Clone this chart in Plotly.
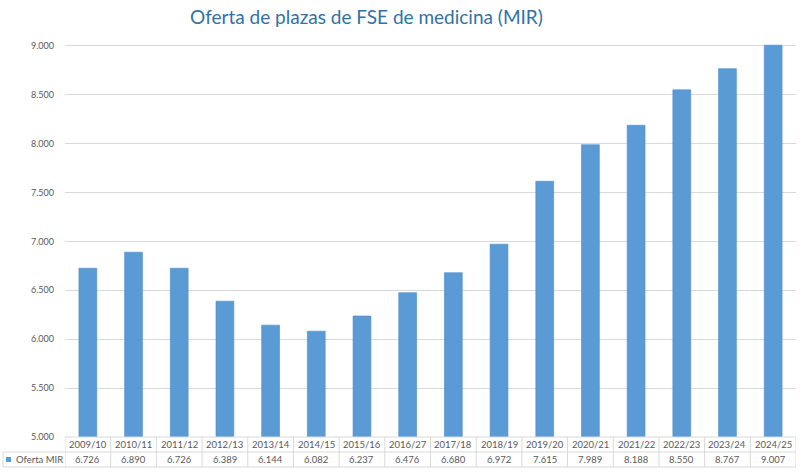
import plotly.graph_objects as go

categories = ["2009/10", "2010/11", "2011/12", "2012/13", "2013/14", "2014/15", "2015/16",
              "2016/27", "2017/18", "2018/19", "2019/20", "2020/21", "2021/22", "2022/23",
              "2023/24", "2024/25"]
values = [6726, 6890, 6726, 6389, 6144, 6082, 6237, 6476, 6680, 6972, 7615, 7989, 8188,
          8550, 8767, 9007]
series_name = "Oferta MIR"
title_text = "Oferta de plazas de FSE de medicina (MIR)"

BAR = "#5B9BD5"
GRID = "#D9D9D9"
TXT = "#595959"
FONT = "Lato, Open Sans, sans-serif"

W, H = 801, 475
L, R, T, B = 65, 5, 40, 38
plot_h = H - T - B
plot_w = W - L - R

def py(p):  # pixel y -> paper y
    return (H - B - p) / plot_h

def px(p):  # pixel x -> paper x
    return (p - L) / plot_w

n = len(categories)
xs = list(range(n))

fig = go.Figure()
fig.add_trace(go.Bar(
    x=xs, y=values, name=series_name,
    marker=dict(color=BAR, line=dict(color="#4A8AC9", width=0.6)),
    width=0.39, showlegend=False, hoverinfo="y",
))

shapes = []
annotations = []
row1_top, row1_bot, row2_bot = H - B, H - B + 15, H - B + 30
shapes.append(dict(type="line", xref="paper", yref="paper", x0=0, x1=1,
                   y0=py(row1_top), y1=py(row1_top), line=dict(color=GRID, width=1)))
for yy in (row1_bot, row2_bot):
    shapes.append(dict(type="line", xref="paper", yref="paper", x0=px(3), x1=1,
                       y0=py(yy), y1=py(yy), line=dict(color=GRID, width=1)))
for i in range(n + 1):
    shapes.append(dict(type="line", xref="x", yref="paper", x0=i - 0.5, x1=i - 0.5,
                       y0=py(row1_top), y1=py(row2_bot), line=dict(color=GRID, width=1)))
shapes.append(dict(type="line", xref="paper", yref="paper", x0=px(3), x1=px(3),
                   y0=py(row1_bot), y1=py(row2_bot), line=dict(color=GRID, width=1)))
shapes.append(dict(type="rect", xref="paper", yref="paper", x0=px(6), x1=px(11),
                   y0=py(462), y1=py(457), fillcolor=BAR, line=dict(width=0)))

tf = dict(size=9.5, color=TXT, family=FONT)
for i, (c, v) in enumerate(zip(categories, values)):
    annotations.append(dict(x=i, y=py((row1_top + row1_bot) / 2), xref="x", yref="paper",
                            text=c, showarrow=False, xanchor="center", yanchor="middle", font=tf))
    annotations.append(dict(x=i, y=py((row1_bot + row2_bot) / 2), xref="x", yref="paper",
                            text=f"{v:,}".replace(",", "."), showarrow=False,
                            xanchor="center", yanchor="middle", font=tf))
annotations.append(dict(x=px(14), y=py((row1_bot + row2_bot) / 2), xref="paper", yref="paper",
                        text=series_name, showarrow=False, xanchor="left", yanchor="middle",
                        font=tf))
annotations.append(dict(x=px(366), y=py(17), xref="paper", yref="paper",
                        text=title_text, showarrow=False, xanchor="center", yanchor="middle",
                        font=dict(size=19, color="#2E72A8", family=FONT)))

fig.update_layout(
    width=W, height=H,
    margin=dict(l=L, r=R, t=T, b=B),
    paper_bgcolor="white", plot_bgcolor="white",
    separators=",.",
    bargap=0.6,
    xaxis=dict(range=[-0.5, n - 0.5], showticklabels=False, showgrid=False,
               zeroline=False, showline=False, fixedrange=True),
    yaxis=dict(range=[5000, 9060], tickvals=[5000, 5500, 6000, 6500, 7000, 7500, 8000, 8500, 9000],
               tickformat=",", showgrid=True, gridcolor=GRID, gridwidth=1, zeroline=False,
               showline=False, ticks="", ticklabelstandoff=10,
               tickfont=dict(size=9, color=TXT, family=FONT)),
    shapes=shapes, annotations=annotations,
    font=dict(family=FONT),
)

fig.write_html("out.html", config={"displayModeBar": False},
               post_script="document.body.style.margin='0';document.body.style.overflow='hidden';")
